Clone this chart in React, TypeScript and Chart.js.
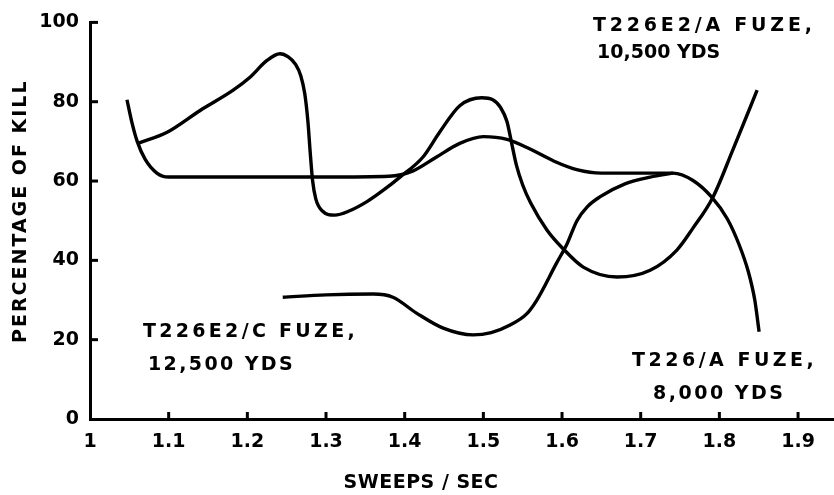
import React, { useEffect, useRef } from "react";
import { Chart, registerables } from "chart.js";

Chart.register(...registerables);

// Axis ranges and ticks
const xMin = 1;
const xMax = 1.9457;
const yMin = 0;
const yMax = 100;
const xTickValues = [1, 1.1, 1.2, 1.3, 1.4, 1.5, 1.6, 1.7, 1.8, 1.9];
const yTickValues = [0, 20, 40, 60, 80, 100];

const xAxisTitle = "SWEEPS / SEC";
const yAxisTitle = "PERCENTAGE OF KILL";

// T226/A fuze, 8,000 yds
const t226aX = [1.047, 1.053, 1.06, 1.07, 1.085, 1.1, 1.2, 1.3, 1.38, 1.41, 1.44, 1.47, 1.5, 1.53, 1.56, 1.59, 1.62, 1.65, 1.7, 1.741, 1.766, 1.79, 1.81, 1.825, 1.837, 1.845, 1.8505];
const t226aY = [80.5, 75, 70, 65.5, 62, 61, 61, 61, 61.2, 62.5, 66, 69.5, 71.2, 70.5, 68, 65, 62.8, 62, 62, 62, 60.2, 56, 50.5, 44, 37, 30, 22];

// T226E2/A fuze, 10,500 yds
const t226e2aX = [1.061, 1.098, 1.14, 1.182, 1.203, 1.225, 1.2415, 1.252, 1.261, 1.268, 1.273, 1.277, 1.28, 1.283, 1.287, 1.295, 1.311, 1.33, 1.352, 1.375, 1.394, 1.423, 1.445, 1.47, 1.498, 1.512, 1.522, 1.53, 1.536, 1.542, 1.55, 1.56, 1.581, 1.601, 1.627, 1.67, 1.712, 1.746, 1.766, 1.792, 1.817, 1.848];
const t226e2aY = [69.5, 72.3, 77.8, 82.9, 86.1, 90.4, 92.1, 91.3, 89.5, 86.5, 82, 75, 67, 60, 55.5, 52.5, 51.4, 52.5, 54.8, 58, 61, 66, 72.5, 79, 81, 80.5, 78.5, 75, 69.5, 64, 59, 54.5, 47.6, 43, 38.3, 35.8, 37.5, 42.6, 48, 56, 67.8, 82.9];

// T226E2/C fuze, 12,500 yds
const t226e2cX = [1.245, 1.3, 1.36, 1.385, 1.415, 1.449, 1.487, 1.51, 1.534, 1.555, 1.568, 1.593, 1.606, 1.619, 1.632, 1.648, 1.68, 1.712, 1.741];
const t226e2cY = [30.7, 31.3, 31.5, 30.7, 26.7, 22.9, 21.2, 21.8, 23.7, 26.5, 30, 39.3, 44, 50, 53.5, 56, 59.3, 61, 62];

// Curve labels (text, anchor in data units: left edge x, middle y)
const labelTexts = ["T226E2/A FUZE,", "10,500 YDS", "T226E2/C FUZE,", "12,500 YDS", "T226/A FUZE,", "8,000 YDS"];
const labelX = [1.6394, 1.6445, 1.0674, 1.0737, 1.689, 1.7157];
const labelY = [99.1, 92.3, 21.9, 13.7, 14.7, 6.2];
const labelSpacing = [3.8, 0, 3.3, 2.4, 3.5, 2.5];

const FONT = '"DejaVu Sans", sans-serif';

function toPoints(xs: number[], ys: number[]) {
  return xs.map((x, i) => ({ x, y: ys[i] }));
}

const decorPlugin = {
  id: "decor",
  afterDraw(chart: any) {
    const { ctx, chartArea } = chart;
    const xs = chart.scales.x;
    const ys = chart.scales.y;
    ctx.save();
    ctx.strokeStyle = "#000";
    ctx.lineWidth = 3;
    // inward tick marks
    yTickValues.filter((v) => v > yMin).forEach((v) => {
      const py = ys.getPixelForValue(v);
      ctx.beginPath();
      ctx.moveTo(chartArea.left, py);
      ctx.lineTo(chartArea.left + 8, py);
      ctx.stroke();
    });
    xTickValues.filter((v) => v > xMin).forEach((v) => {
      const px = xs.getPixelForValue(v);
      ctx.beginPath();
      ctx.moveTo(px, chartArea.bottom);
      ctx.lineTo(px, chartArea.bottom - 7);
      ctx.stroke();
    });
    ctx.fillStyle = "#000";
    ctx.font = `bold 19px ${FONT}`;
    ctx.textBaseline = "middle";
    ctx.textAlign = "left";
    labelTexts.forEach((t, i) => {
      (ctx as any).letterSpacing = `${labelSpacing[i]}px`;
      ctx.fillText(t, xs.getPixelForValue(labelX[i]), ys.getPixelForValue(labelY[i]));
    });
    // axis titles
    ctx.textAlign = "center";
    (ctx as any).letterSpacing = "0.5px";
    ctx.fillText(xAxisTitle, xs.getPixelForValue(1.4208), chartArea.bottom + 64);
    ctx.translate(chartArea.left - 69, ys.getPixelForValue(52.4));
    ctx.rotate(-Math.PI / 2);
    (ctx as any).letterSpacing = "2px";
    ctx.fillText(yAxisTitle, 0, 0);
    ctx.restore();
  },
};

function FuzeChart() {
  const ref = useRef<HTMLCanvasElement | null>(null);
  useEffect(() => {
    if (!ref.current) return;
    const lineStyle = {
      borderColor: "#000",
      borderWidth: 3.4,
      pointRadius: 0,
      fill: false,
      cubicInterpolationMode: "monotone" as const,
    };
    const chart = new Chart(ref.current, {
      type: "line",
      data: {
        datasets: [
          { label: "T226/A FUZE, 8,000 YDS", data: toPoints(t226aX, t226aY), ...lineStyle },
          { label: "T226E2/A FUZE, 10,500 YDS", data: toPoints(t226e2aX, t226e2aY), ...lineStyle },
          { label: "T226E2/C FUZE, 12,500 YDS", data: toPoints(t226e2cX, t226e2cY), ...lineStyle },
        ],
      },
      options: {
        responsive: false,
        devicePixelRatio: 1,
        animation: false,
        layout: { padding: { top: 22, right: 0, left: 0, bottom: 0 } },
        plugins: { legend: { display: false }, tooltip: { enabled: false } },
        scales: {
          x: {
            type: "linear",
            min: xMin,
            max: xMax,
            afterBuildTicks: (s: any) => {
              s.ticks = xTickValues.map((v) => ({ value: v }));
            },
            afterFit: (s: any) => {
              s.height = 76;
            },
            grid: { display: false, drawTicks: false },
            border: { display: true, color: "#000", width: 3 },
            ticks: {
              color: "#000",
              font: { family: FONT, weight: "bold", size: 19 },
              padding: 12,
              maxRotation: 0,
              autoSkip: false,
              callback: (v: any) => String(v),
            },
          },
          y: {
            type: "linear",
            min: yMin,
            max: yMax,
            afterBuildTicks: (s: any) => {
              s.ticks = yTickValues.map((v) => ({ value: v }));
            },
            afterFit: (s: any) => {
              s.width = 90;
            },
            grid: { display: false, drawTicks: false },
            border: { display: true, color: "#000", width: 3 },
            ticks: {
              color: "#000",
              font: { family: FONT, weight: "bold", size: 19 },
              padding: 11,
              callback: (v: any) => String(v),
            },
          },
        },
      },
      plugins: [decorPlugin],
    });
    return () => chart.destroy();
  }, []);
  return <canvas ref={ref} width={834} height={495} style={{ display: "block" }} />;
}

export default function App() {
  return (
    <div style={{ position: "absolute", left: 0, top: 0, width: 834, height: 495, background: "#fff" }}>
      <FuzeChart />
    </div>
  );
}
